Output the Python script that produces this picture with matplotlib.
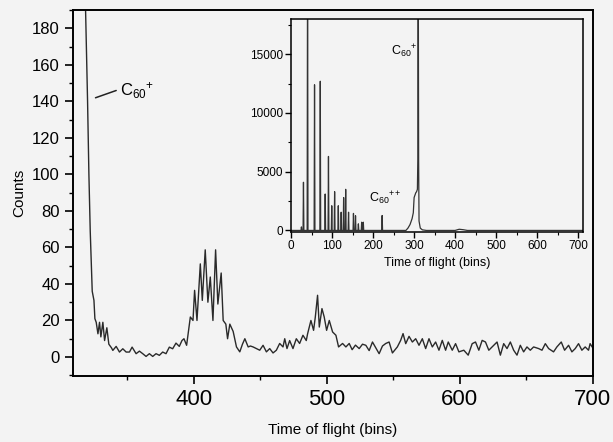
#====================================================================================
#                 Espectro de tempo de voo - C60 (grafico principal + inset)
#====================================================================================
import matplotlib
matplotlib.use('Agg')
import matplotlib.pyplot as plt
from matplotlib.ticker import MultipleLocator
import numpy as np

plt.rcParams['font.family'] = ['Liberation Sans', 'DejaVu Sans']
plt.rcParams['mathtext.fontset'] = 'custom'
plt.rcParams['mathtext.rm'] = 'Liberation Sans'
plt.rcParams['mathtext.it'] = 'Liberation Sans'

#====================================================================================
#                                  Dados
#------------------------------------------------------------------------------------
# Serie principal
tof_main = [316, 318.5, 320, 321, 322, 322.8, 323.5, 324.8, 325.5, 326.5, 327.8, 329,
            330, 331.5, 332.8, 334.5, 336, 338, 339, 341.5, 344, 346.5, 349, 351.5,
            353.5, 356.5, 359, 361.5, 364, 366.5, 369, 371.5, 374, 376.5, 379, 381.5,
            384, 386.5, 389, 391, 392.5, 394.5, 397.3, 399.3, 400.5, 402.3, 404.8,
            406.3, 408.5, 410.5, 412.3, 414.3, 416.3, 418, 420.5, 422, 424, 425.3, 427,
            429.5, 432, 434.5, 436.5, 438.3, 440.8, 442.5, 444.5, 447, 449.5, 452,
            454.5, 457, 459.5, 462, 464.5, 467, 468.3, 470, 472, 474.5, 477, 479.5, 482,
            484.5, 485.5, 488, 490, 491.3, 493, 494.3, 496.3, 498, 499.8, 501.8, 504.3,
            506.8, 508.8, 511.8, 514.3, 516.8, 519, 521.5, 524.3, 526.8, 529.3, 531.8,
            534.3, 536.8, 539.3, 541.8, 544.3, 546.8, 549.3, 553, 555.5, 557.3, 559.3,
            561.8, 564.3, 566.8, 569.3, 571.8, 574.3, 576.8, 579.3, 581.8, 584.3, 586.8,
            589.3, 591.3, 594.3, 596.8, 599.3, 603, 606.3, 609.3, 611.8, 614.3, 616.8,
            619.3, 621.8, 624.3, 628, 630.5, 633, 635.5, 638, 640.5, 643, 645.5, 648,
            650.5, 653, 655.5, 659.3, 661.8, 664.3, 666.8, 670.5, 673, 676.3, 678.8,
            681.8, 684.3, 686.8, 689.3, 691.8, 694.3, 696.8, 698, 700]
counts_main = [260, 190, 140, 100, 69, 51, 36, 31, 21, 19, 12.7, 19,
               11, 19, 9, 16, 7, 5, 3.6, 5.8, 2.7, 4.5, 2.7, 2.7,
               5.4, 1.8, 3.2, 1.8, 0.3, 1.8, 0.3, 1.8, 0.9, 2.7, 1.8, 5.4,
               4.5, 7.6, 5.8, 9, 10, 6.4, 21.9, 20, 36.5, 20, 51,
               31, 58.7, 30, 43.8, 20, 58.7, 29, 46, 20, 18, 10, 18,
               14, 5.5, 2.8, 7, 10, 5.5, 6, 5.5, 4.6, 3.7, 6.4,
               2.8, 4.6, 2.2, 3.7, 7.4, 5.5, 10, 4.6, 9, 4.6, 10, 7.4, 11.9,
               9, 12.7, 20, 14.6, 21.9, 33.8, 16.4, 26.5, 21.9, 14.6, 20, 13.7,
               11.9, 5.5, 7.4, 5.5, 7.4, 4, 6.5, 4.6, 7, 6.4, 3.5,
               8.2, 5, 1.8, 6, 7.4, 8.2, 2.2, 5.5, 9.1, 12.8, 7.3,
               11.3, 8.2, 10, 6.4, 10, 4.6, 10, 5.5, 8.2, 3.7, 9.1,
               3.7, 8.2, 3.7, 7.3, 2.8, 3.7, 1, 7.3, 8.2, 3.7, 9.1,
               8.2, 3.7, 5.5, 8.2, 1, 7.3, 4.6, 8.2, 3.7, 1, 6.4, 2.8,
               5.5, 3.7, 5.5, 4.6, 3.7, 7.3, 4.6, 2.8, 5.5, 8.2, 3.7,
               6.4, 2.8, 4.6, 7.3, 3.7, 5.5, 3.7, 7.3, 5]

# Inset: picos estreitos (bin, contagens)
peak_bins = [25, 30, 40, 57, 71, 83, 91, 99, 106, 115, 122, 128, 133, 140, 152,
             157, 164, 172, 176, 222]
peak_heights = [300, 4100, 25000, 12400, 12700, 3100, 6300, 2100, 3300, 2100, 1550,
                2800, 3500, 1550, 1450, 1250, 560, 700, 700, 1270]
# Inset: regiao do C60+ (contorno continuo)
c60_bins = [280, 285, 290, 295, 298, 300, 302, 304, 306, 308, 309, 310, 311, 312,
            315, 320, 330, 400, 410, 420, 430, 712]
c60_counts = [0, 200, 500, 1000, 1500, 2800, 3000, 3200, 3300, 3500, 6000, 25000,
              6000, 800, 200, 50, 0, 0, 100, 60, 0, 0]

#====================================================================================
#                                  Figura
#------------------------------------------------------------------------------------
bg = '#f3f3f3'
fig = plt.figure(figsize=(6.13, 4.42), dpi=100, facecolor=bg)
ax = fig.add_axes([0.119, 0.149, 0.848, 0.828], facecolor=bg)

ax.plot(tof_main, counts_main, color='#2a2a2a', lw=1.0)
ax.set_xlim(309, 700)
ax.set_ylim(-10.5, 190)
ax.xaxis.set_major_locator(MultipleLocator(100))
ax.xaxis.set_minor_locator(MultipleLocator(50))
ax.yaxis.set_major_locator(MultipleLocator(20))
ax.yaxis.set_minor_locator(MultipleLocator(10))
ax.tick_params(axis='x', which='major', labelsize=16, length=6, width=1.2, direction='out')
ax.tick_params(axis='y', which='major', labelsize=12, length=6, width=1.2, direction='out')
ax.tick_params(which='minor', length=3, width=1, direction='out')
for s in ax.spines.values():
    s.set_linewidth(1.4)
ax.set_xlabel('Time of flight (bins)', fontsize=11, labelpad=9)
ax.set_ylabel('Counts', fontsize=11, labelpad=4)

# Rotulo C60+ com seta
ax.annotate('', xy=(324, 141.5), xytext=(343.5, 146.5),
            arrowprops=dict(arrowstyle='-', color='#222222', lw=1.1))
ax.text(344.5, 146, r'C$_{60}$$^{+}$', fontsize=12, va='center', ha='left')

#------------------------------------------------------------------------------------
# Inset
axi = fig.add_axes([0.475, 0.476, 0.476, 0.481], facecolor=bg)

# Monta espectro de linhas a partir dos picos
xs, ys = [0], [0]
for b, h in zip(peak_bins, peak_heights):
    xs += [b - 1, b, b + 1]
    ys += [0, h, 0]
xs += c60_bins
ys += c60_counts
axi.plot(xs, ys, color='#333333', lw=0.9)

axi.set_xlim(0, 712)
axi.set_ylim(-100, 18000)
axi.xaxis.set_major_locator(MultipleLocator(100))
axi.xaxis.set_minor_locator(MultipleLocator(50))
axi.yaxis.set_major_locator(MultipleLocator(5000))
axi.yaxis.set_minor_locator(MultipleLocator(2500))
axi.tick_params(which='major', labelsize=8.5, length=4, width=1, direction='out', pad=2)
axi.tick_params(which='minor', length=2, width=0.8, direction='out')
for s in axi.spines.values():
    s.set_linewidth(1.1)
axi.set_xlabel('Time of flight (bins)', fontsize=9, labelpad=4)

axi.text(243, 15200, r'C$_{60}$$^{+}$', fontsize=9, va='center', ha='left')
axi.text(190, 2700, r'C$_{60}$$^{++}$', fontsize=9, va='center', ha='left')

fig.savefig('out.png', dpi=100, facecolor=bg)
plt.close('all')
